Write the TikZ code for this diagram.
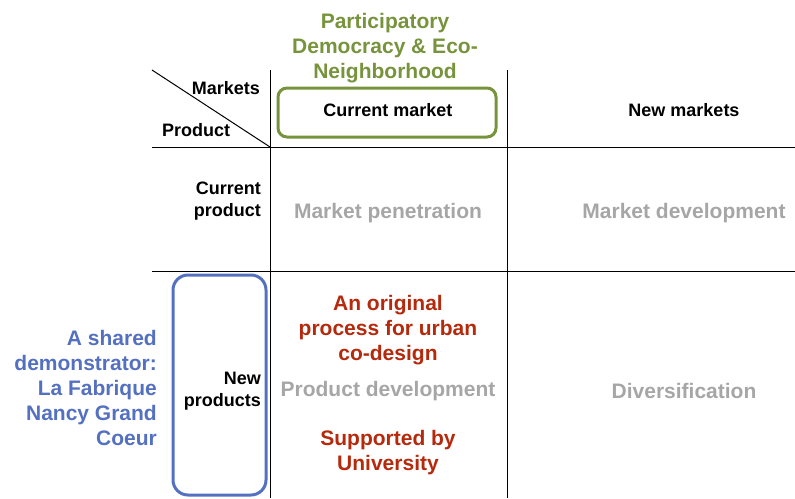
\documentclass[tikz,border=0pt]{standalone}
\usepackage{fontspec}
\setmainfont{Liberation Sans}
\definecolor{olive}{HTML}{77933C}
\definecolor{blu}{HTML}{5470C0}
\definecolor{rd}{HTML}{B5290C}
\definecolor{gr}{HTML}{A6A6A6}
\begin{document}
\begin{tikzpicture}[x=1pt,y=-1pt,
  grid/.style={draw=black,line width=1pt},
  hdr/.style={font=\bfseries\fontsize{18}{22}\selectfont,text=black,inner sep=0pt},
  cell/.style={font=\bfseries\fontsize{21}{25}\selectfont,text=gr,inner sep=0pt},
  note/.style={font=\bfseries\fontsize{21}{25}\selectfont,inner sep=0pt,align=center},
  hbox/.style={draw,rounded corners=9pt,line width=3pt,inner sep=0pt}]
\useasboundingbox (0,0) rectangle (795,498);
% grid
\coordinate (dTL) at (152,70);
\coordinate (c0) at (270,147);
\coordinate (v1t) at (270,70);
\coordinate (v1b) at (270,498);
\coordinate (v2t) at (507,70);
\coordinate (v2b) at (507,498);
\coordinate (h1l) at (152,147);
\coordinate (h1r) at (795,147);
\coordinate (h2l) at (152,271);
\coordinate (h2r) at (795,271);
\draw[grid] (v1t) -- (v1b);
\draw[grid] (v2t) -- (v2b);
\draw[grid] (h1l) -- (h1r);
\draw[grid] (h2l) -- (h2r);
\draw[grid] (dTL) -- (c0);
% highlight boxes
\node[hbox,draw=olive,minimum width=218pt,minimum height=49pt] (gbox) at (387,112.5) {};
\node[hbox,draw=blu,rounded corners=15pt,minimum width=93pt,minimum height=220pt] (bbox) at (219.5,385) {};
% headers
\node[hdr,anchor=east] (mk) at (260,88) {Markets};
\node[hdr] (pr) at (196,130) {Product};
\node[hdr] (cm) at (388,110) {Current market};
\node[hdr] (nm) at (684,110) {New markets};
\node[hdr,anchor=east,align=right,font=\bfseries\fontsize{18}{22}\selectfont] (cp) at (261,201) {Current\\product};
\node[hdr,anchor=east,align=right,font=\bfseries\fontsize{18}{22}\selectfont] (np) at (261,391) {New\\products};
% cells
\node[cell] (mp) at (388,213) {Market penetration};
\node[cell] (md) at (684,213) {Market development};
\node[cell] (pd) at (388,391) {Product development};
\node[cell] (dv) at (684,391) {Diversification};
% notes
\node[note,text=olive] (part) at (385,48) {Participatory\\Democracy \& Eco-\\Neighborhood};
\node[note,text=rd] (orig) at (388,330) {An original\\process for urban\\co-design};
\node[note,text=rd] (sup) at (388,453) {Supported by\\University};
\node[note,text=blu,align=right,anchor=east] (shared) at (157,388) {A shared\\demonstrator:\\La Fabrique\\Nancy Grand\\Coeur};
\end{tikzpicture}
\end{document}
